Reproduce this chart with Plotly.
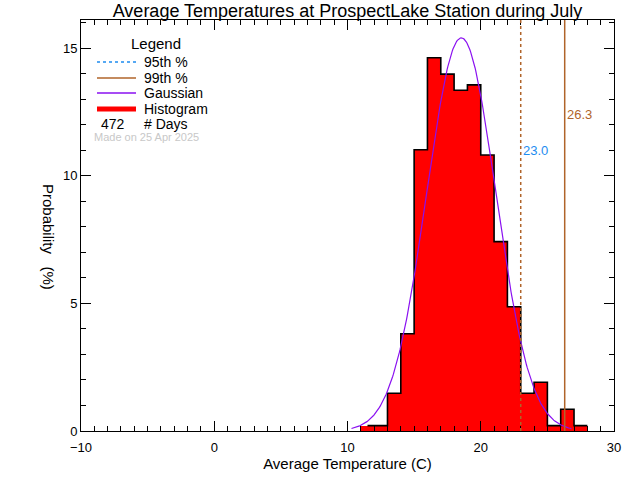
import numpy as np
import plotly.graph_objects as go

# ---- data ----
bin_left_edges = [11, 12, 13, 14, 15, 16, 17, 18, 19, 20, 21, 22, 23, 24, 25, 26, 27]
bin_width = 1.0
probability_pct = [0.21, 0.21, 1.48, 3.81, 11.02, 14.62, 13.98, 13.35, 13.56,
                   10.81, 7.42, 4.87, 1.48, 1.91, 0.21, 0.85, 0.21]
n_days = 472
gauss_mean = 18.54
gauss_sigma = 2.59
gauss_range = [10.3, 26.8]
pct95 = 23.0
pct99 = 26.3
title_text = "Average Temperatures at ProspectLake Station during July"
x_ticks = [-10, 0, 10, 20, 30]
y_ticks = [0, 5, 10, 15]

FONT = "Liberation Sans"
RED = "#ff0000"
PURPLE = "#8a10f0"
BROWN = "#b0642a"
BLUE = "#1e8cf0"

centers = [e + bin_width / 2 for e in bin_left_edges]

fig = go.Figure()

# filled histogram bars (no internal outlines)
fig.add_trace(go.Bar(x=centers, y=probability_pct, width=bin_width,
                     marker=dict(color=RED, line=dict(width=0)),
                     hoverinfo="skip", showlegend=False))

# stepped outline (IDL psym=10 style)
step_x = [centers[0]] + bin_left_edges[1:] + [bin_left_edges[-1] + bin_width]
step_y = probability_pct + [probability_pct[-1]]
fig.add_trace(go.Scatter(x=step_x, y=step_y, mode="lines",
                         line=dict(color="black", width=1.6, shape="hv"),
                         hoverinfo="skip", showlegend=False))

# gaussian fit
gx = np.linspace(gauss_range[0], gauss_range[1], 300)
total = sum(probability_pct) * bin_width
gy = total / (gauss_sigma * np.sqrt(2 * np.pi)) * np.exp(-(gx - gauss_mean) ** 2 / (2 * gauss_sigma ** 2))
fig.add_trace(go.Scatter(x=gx, y=gy, mode="lines",
                         line=dict(color=PURPLE, width=1.2),
                         hoverinfo="skip", showlegend=False))

# percentile lines
fig.add_shape(type="line", xref="x", yref="paper", x0=pct95, x1=pct95, y0=0, y1=1,
              line=dict(color=BROWN, width=1.5, dash="dot"))
fig.add_shape(type="line", xref="x", yref="paper", x0=pct99, x1=pct99, y0=0, y1=1,
              line=dict(color=BROWN, width=1.5))
fig.add_annotation(x=pct95, y=11.0, xref="x", yref="y", text=f"{pct95:.1f}",
                   showarrow=False, xanchor="left", yanchor="middle",
                   font=dict(family=FONT, size=13, color=BLUE))
fig.add_annotation(x=pct99, y=12.4, xref="x", yref="y", text=f"{pct99:.1f}",
                   showarrow=False, xanchor="left", yanchor="middle",
                   font=dict(family=FONT, size=13, color=BROWN))

# ---- hand-drawn legend (paper coords, pixel-converted) ----
L, R, T, B = 81, 26, 20, 49
W, H = 640, 480
pw, ph = W - L - R, H - T - B

def px(xp):
    return (xp - L) / pw

def py(yp):
    return (H - B - yp) / ph

fig.add_annotation(x=px(156), y=py(43), xref="paper", yref="paper", text="Legend",
                   showarrow=False, xanchor="center", yanchor="middle",
                   font=dict(family=FONT, size=15, color="black"))
legend_rows = [
    ("95th %", BLUE, "dot", 1.5, 62),
    ("99th %", BROWN, "solid", 1.5, 78),
    ("Gaussian", PURPLE, "solid", 1.5, 93),
    ("Histogram", RED, "solid", 5, 109),
]
for label, col, dash, wd, yy in legend_rows:
    fig.add_shape(type="line", xref="paper", yref="paper",
                  x0=px(97), x1=px(136), y0=py(yy), y1=py(yy),
                  line=dict(color=col, width=wd, dash=dash))
    fig.add_annotation(x=px(142), y=py(yy), xref="paper", yref="paper", text=label,
                       showarrow=False, xanchor="left", yanchor="middle",
                       font=dict(family=FONT, size=14, color="black"))
fig.add_annotation(x=px(113), y=py(124), xref="paper", yref="paper", text=str(n_days),
                   showarrow=False, xanchor="center", yanchor="middle",
                   font=dict(family=FONT, size=14, color="black"))
fig.add_annotation(x=px(142), y=py(124), xref="paper", yref="paper", text="# Days",
                   showarrow=False, xanchor="left", yanchor="middle",
                   font=dict(family=FONT, size=14, color="black"))
fig.add_annotation(x=px(92), y=py(137), xref="paper", yref="paper", text="Made on 25 Apr 2025",
                   showarrow=False, xanchor="left", yanchor="middle",
                   font=dict(family=FONT, size=11, color="#c8c8c8"))

# y-axis title (reads top-to-bottom)
fig.add_annotation(x=px(49), y=py(237), xref="paper", yref="paper", text="Probability   (%)",
                   showarrow=False, textangle=90, xanchor="center", yanchor="middle",
                   font=dict(family=FONT, size=15, color="black"))

axis_common = dict(showline=True, linecolor="black", linewidth=1, mirror="ticks",
                   ticks="inside", ticklen=10, tickwidth=1, tickcolor="black",
                   showgrid=False, zeroline=False,
                   tickfont=dict(family=FONT, size=13, color="black"))

fig.update_layout(
    width=W, height=H,
    margin=dict(l=L, r=R, t=T, b=B, pad=0),
    paper_bgcolor="white", plot_bgcolor="white",
    bargap=0,
    title=dict(text=title_text, x=(L + pw / 2) / W, xanchor="center",
               y=1 - 11 / H, yanchor="middle",
               font=dict(family=FONT, size=18, color="black")),
    xaxis=dict(range=[x_ticks[0], x_ticks[-1]], tickvals=x_ticks,
               ticktext=["\u221210" if v == -10 else str(v) for v in x_ticks],
               minor=dict(dtick=1, ticklen=5, ticks="inside", tickcolor="black", showgrid=False),
               ticklabelstandoff=4,
               title=dict(text="Average Temperature (C)", standoff=3,
                          font=dict(family=FONT, size=15, color="black")),
               **axis_common),
    yaxis=dict(range=[0, 16.1], tickvals=y_ticks,
               minor=dict(dtick=1, ticklen=5, ticks="inside", tickcolor="black", showgrid=False),
               **axis_common),
)

fig.write_html("out.html", config={"displayModeBar": False},
               post_script="document.body.style.margin='0';document.body.style.overflow='hidden';")
